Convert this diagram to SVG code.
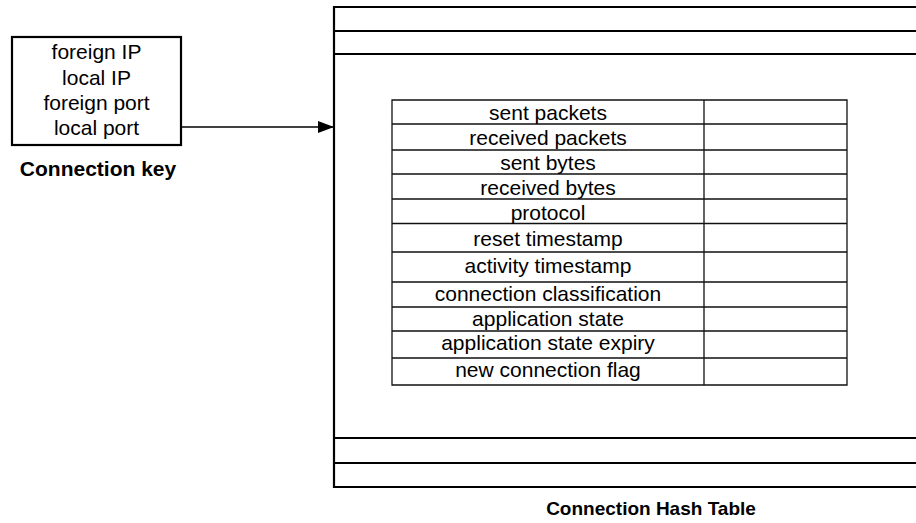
<svg xmlns="http://www.w3.org/2000/svg" width="916" height="523" viewBox="0 0 916 523">
<style>
text{font-family:"Liberation Sans",Arial,sans-serif;fill:#000;text-anchor:middle}
.t{font-size:21px}
.b{font-size:19px;font-weight:bold}
.bk{font-size:21px;font-weight:bold}
.thick{stroke:#000;stroke-width:2.2;fill:none}
.thin{stroke:#111;stroke-width:1.3;fill:none}
</style>
<defs>
<marker id="ah" markerWidth="16" markerHeight="12" refX="16" refY="6" orient="auto" markerUnits="userSpaceOnUse">
<path d="M0,0 L16,6 L0,12 Z" fill="#000"/>
</marker>
</defs>
<rect width="916" height="523" fill="#fff"/>
<g id="connection-key">
<rect class="thick" x="12" y="37" width="169" height="108"/>
<text class="t" x="96.5" y="59">foreign IP</text>
<text class="t" x="96.5" y="85">local IP</text>
<text class="t" x="96.5" y="109.5">foreign port</text>
<text class="t" x="96.5" y="135">local port</text>
<text class="bk" x="98" y="176">Connection key</text>
</g>
<g id="hash-table">
<path class="thick" d="M916,7 H334 V487 H916 M334,31 H916 M334,54 H916 M334,438 H916 M334,463 H916"/>
<text class="b" x="651" y="515">Connection Hash Table</text>
</g>
<g id="entry">
<path class="thin" d="M392,100 H847 V385 H392 Z M704,100 V385 M392,124 H847 M392,150 H847 M392,174 H847 M392,199 H847 M392,223.5 H847 M392,252 H847 M392,282 H847 M392,307 H847 M392,331 H847 M392,358 H847"/>
<text class="t" x="548" y="120">sent packets</text>
<text class="t" x="548" y="145">received packets</text>
<text class="t" x="548" y="170">sent bytes</text>
<text class="t" x="548" y="195">received bytes</text>
<text class="t" x="548" y="220">protocol</text>
<text class="t" x="548" y="246">reset timestamp</text>
<text class="t" x="548" y="273">activity timestamp</text>
<text class="t" x="548" y="301">connection classification</text>
<text class="t" x="548" y="326">application state</text>
<text class="t" x="548" y="350">application state expiry</text>
<text class="t" x="548" y="376.5">new connection flag</text>
</g>
<g id="connectors">
<line x1="181" y1="127" x2="334" y2="127" stroke="#000" stroke-width="1.3" marker-end="url(#ah)"/>
</g>
</svg>
